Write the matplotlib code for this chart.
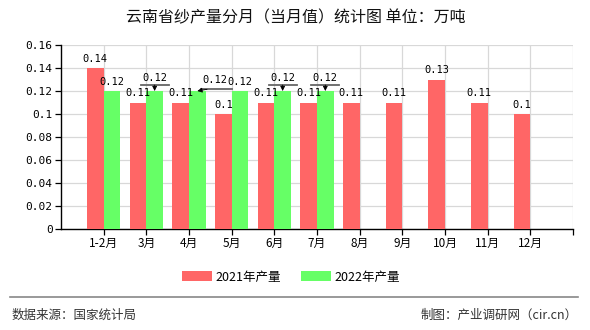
import matplotlib
matplotlib.use("Agg")
import matplotlib.pyplot as plt
from matplotlib.transforms import offset_copy
from matplotlib.patches import Patch

plt.rcParams['font.family'] = ['Noto Sans CJK SC', 'DejaVu Sans']

categories = ["1-2月", "3月", "4月", "5月", "6月", "7月", "8月", "9月", "10月", "11月", "12月"]
values_2021 = [0.14, 0.11, 0.11, 0.1, 0.11, 0.11, 0.11, 0.11, 0.13, 0.11, 0.1]
values_2022 = [0.12, 0.12, 0.12, 0.12, 0.12, 0.12]
labels_2021 = ["0.14", "0.11", "0.11", "0.1", "0.11", "0.11", "0.11", "0.11", "0.13", "0.11", "0.1"]
labels_2022 = ["0.12", "0.12", "0.12", "0.12", "0.12", "0.12"]
series_names = ["2021年产量", "2022年产量"]
yticks = [0, 0.02, 0.04, 0.06, 0.08, 0.1, 0.12, 0.14, 0.16]
ytick_labels = ["0", "0.02", "0.04", "0.06", "0.08", "0.1", "0.12", "0.14", "0.16"]

RED = "#FF6666"
GREEN = "#66FF66"
NUMFONT = ['DejaVu Sans Mono']

fig = plt.figure(figsize=(5.9, 3.3), dpi=100)
ax = fig.add_axes([61/590, 1-229/330, 512/590, 184/330])

bw = 0.39
x1 = [i - bw/2 for i in range(len(values_2021))]
x2 = [i + bw/2 for i in range(len(values_2022))]
ax.bar(x1, values_2021, width=bw, color=RED, zorder=3)
ax.bar(x2, values_2022, width=bw, color=GREEN, zorder=3)

ax.set_xlim(-1, 11)
ax.set_ylim(0, 0.16)
ax.set_xticks(list(range(12)))
ax.set_xticklabels(categories + [""], fontsize=8.5)
ax.set_yticks(yticks)
ax.set_yticklabels(ytick_labels, fontsize=8, family=NUMFONT)
ax.grid(True, color="#d8d8d8", lw=0.9, zorder=0)
ax.set_axisbelow(True)
for s in ["top", "right"]:
    ax.spines[s].set_visible(False)
for s in ["left", "bottom"]:
    ax.spines[s].set_color("black")
    ax.spines[s].set_linewidth(1.0)
ax.tick_params(axis="both", length=4, width=0.9, color="black", pad=2)

lab_kw = dict(textcoords="offset points", ha="center", va="bottom",
              fontsize=7.5, family=NUMFONT, zorder=5)

for x, v, t in zip(x1, values_2021, labels_2021):
    ax.annotate(t, (x, v), xytext=(0, 3), **lab_kw)

callout_down = {1, 4, 5}
callout_left = {2}
for i, (x, v, t) in enumerate(zip(x2, values_2022, labels_2022)):
    if i in callout_down:
        ax.annotate(t, (x, v), xytext=(0, 6), **lab_kw)
        tr = offset_copy(ax.transData, fig=fig, x=0, y=4.3, units='points')
        ax.plot([x - 0.33, x + 0.33], [v, v], transform=tr, color="#666666", lw=1.3, zorder=4)
        ax.annotate("", xy=(x, v), xytext=(0, 4.3), textcoords="offset points",
                    arrowprops=dict(arrowstyle="-|>", color="black", lw=0.6,
                                    mutation_scale=7, shrinkA=0, shrinkB=0), zorder=5)
    elif i in callout_left:
        ax.annotate(t, (x, v), xytext=(12.5, 4), **lab_kw)
        tr = offset_copy(ax.transData, fig=fig, x=2.5, y=1.2, units='points')
        ax.plot([x, x + 0.72], [v, v], transform=tr, color="#666666", lw=1.3, zorder=4)
        ax.annotate("", xy=(x, v), xytext=(7, 1.2), textcoords="offset points",
                    arrowprops=dict(arrowstyle="-|>", color="black", lw=0.6,
                                    mutation_scale=7, shrinkA=0, shrinkB=0), zorder=5)
    else:
        ax.annotate(t, (x, v), xytext=(0, 3), **lab_kw)

fig.text(296/590, 1-18/330, "云南省纱产量分月（当月值）统计图 单位：万吨",
         ha="center", va="center", fontsize=11.5, color="#111111")

handles = [Patch(facecolor=RED, edgecolor="none"), Patch(facecolor=GREEN, edgecolor="none")]
fig.legend(handles, series_names, loc="center", bbox_to_anchor=(291/590, 1-277/330),
           ncol=2, frameon=False, fontsize=9, handlelength=2.4, handleheight=0.9,
           handletextpad=0.25, columnspacing=1.6)

fig.add_artist(plt.Line2D([10/590, 578/590], [1-297/330, 1-297/330],
                          transform=fig.transFigure, color="#888888", lw=1.2))
fig.text(12/590, 1-315/330, "数据来源：国家统计局", ha="left", va="center",
         fontsize=9, color="#333333")
fig.text(578/590, 1-315/330, "制图：产业调研网（cir.cn）", ha="right", va="center",
         fontsize=9, color="#333333")

fig.savefig("out.png", dpi=100)
